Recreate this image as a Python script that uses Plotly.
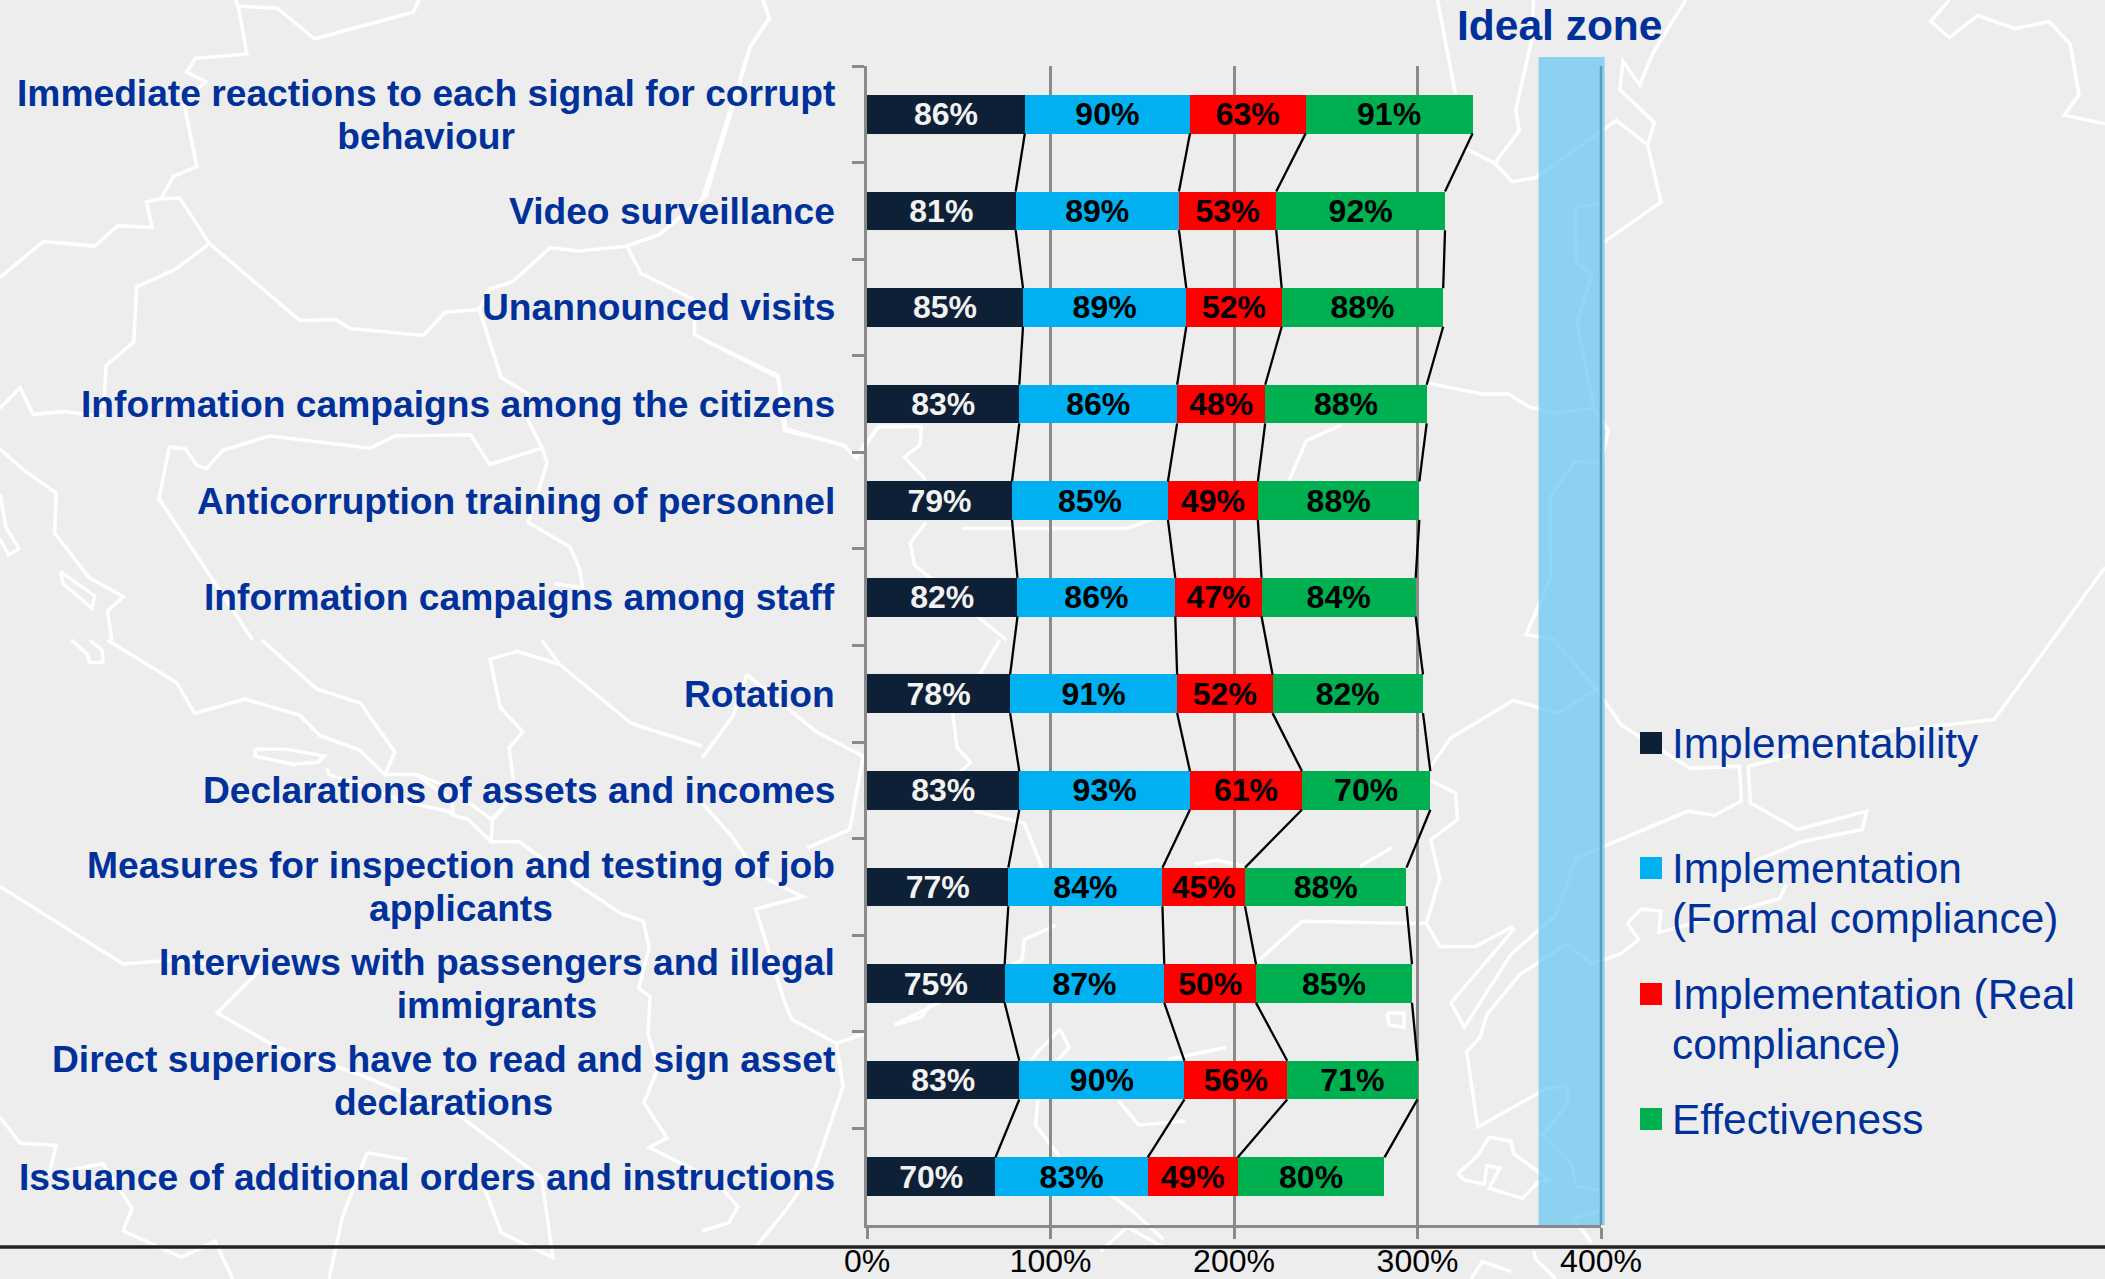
import numpy as np
import plotly.graph_objects as go

W, H = 2105, 1279

categories = [
    "Immediate reactions to each signal for corrupt<br>behaviour",
    "Video surveillance",
    "Unannounced visits",
    "Information campaigns among the citizens",
    "Anticorruption training of personnel",
    "Information campaigns among staff",
    "Rotation",
    "Declarations of assets and incomes",
    "Measures for inspection and testing of job<br>applicants",
    "Interviews with passengers and illegal<br>immigrants",
    "Direct superiors have to read and sign asset<br>declarations",
    "Issuance of additional orders and instructions",
]
implementability = [86, 81, 85, 83, 79, 82, 78, 83, 77, 75, 83, 70]
formal_compliance = [90, 89, 89, 86, 85, 86, 91, 93, 84, 87, 90, 83]
real_compliance = [63, 53, 52, 48, 49, 47, 52, 61, 45, 50, 56, 49]
effectiveness = [91, 92, 88, 88, 88, 84, 82, 70, 88, 85, 71, 80]

series_names = [
    "Implementability",
    "Implementation<br>(Formal compliance)",
    "Implementation (Real<br>compliance)",
    "Effectiveness",
]
series_values = [implementability, formal_compliance, real_compliance, effectiveness]
series_colors = ["#0E2036", "#00B0F0", "#FF0000", "#00B050"]
label_colors = ["#F2F2F2", "#000000", "#000000", "#000000"]
tick_values = [0, 100, 200, 300, 400]
ideal_zone = (366, 402)

BG, AXIS, BLUE = "#EDEDED", "#8A8A8A", "#00309A"
ZONE = "rgba(102,198,240,0.72)"
FONT = "Liberation Sans"

# decorative map backdrop, one group per reference crop: origin, scale, polylines
MAP = [
    (0, 0, 1.742, 2.45, [
        [(410,0),(415,15),(483,20),(548,95),(720,30),(730,0)],
        [(415,15),(430,132),(340,143),(325,177),(358,200),(320,250),(343,408),(302,432),(280,487),(255,495),(265,557),(205,553),(165,603),(75,592),(0,680)],
        [(280,487),(313,485),(365,597),(522,785),(585,783),(610,805),(738,822),(775,765),(835,758),(873,925),(920,965),(920,1030),(945,1100),(953,1135),(920,1280),(993,1340),(1010,1395),(1015,1440),(965,1430)],
        [(365,597),(305,660),(238,703),(233,838),(185,895),(180,1000)],
        [(1330,0),(1340,45),(1307,115),(1230,480),(1148,575),(1092,603),(1010,615),(958,607),(893,690),(853,708),(835,758)],
        [(1092,603),(1117,670),(1210,735),(1210,820),(1355,925),(1367,1055),(1470,1090),(1490,1120),(1530,1045),(1568,1045)],
        [(0,1000),(35,950),(58,1015),(110,1008),(180,1020)],
        [(440,1568),(277,1222),(295,1095),(323,1100),(343,1140),(360,1148),(388,1103),(470,1068),(645,1098),(688,1068),(820,1065),(853,1138),(943,1098)],
        [(0,1100),(40,1150),(98,1208),(95,1305),(155,1415),(215,1462),(187,1497),(195,1568)],
        [(105,1400),(165,1460),(160,1490),(110,1430),(105,1400)],
        [(0,1210),(10,1290),(33,1345),(15,1360),(0,1320)],
    ]),
    (0, 640, 2.2336, 2.4538, [
        [(240,0),(395,105),(435,180),(547,145),(670,185),(715,235),(803,270),(860,330),(882,275),(805,155),(707,120),(585,0)],
        [(570,268),(640,268),(725,285),(710,300),(655,305),(570,285),(570,268)],
        [(160,0),(195,35),(200,55),(230,55),(228,25),(200,0)],
        [(860,330),(930,330),(1010,395),(1012,430),(1045,440),(1097,495),(1160,495),(1290,600),(1385,670),(1437,690),(1450,755),(1427,855),(1452,875),(1447,965),(1470,1050),(1438,1135),(1490,1222),(1450,1245),(1568,1310)],
        [(730,315),(735,330),(915,400),(1000,420),(1012,430)],
        [(1097,495),(1100,440),(1135,400),(1097,440),(1000,360),(930,330)],
        [(1210,0),(1250,60),(1155,28),(1095,47),(1117,165),(1168,225),(1137,265),(1147,345)],
        [(1250,60),(1410,205),(1568,260)],
        [(0,605),(275,795),(390,785),(580,810),(485,915),(620,1000),(800,1065),(1030,1170),(1210,1320),(1235,1515),(1120,1455),(1080,1340)],
        [(0,1170),(45,1235),(125,1240),(110,1310),(230,1285),(295,1395),(275,1450),(405,1515),(480,1475),(520,1568)],
        [(820,1258),(910,1275)],
        [(820,1258),(765,1415),(735,1568)],
    ]),
    (702, 640, 2.2336, 2.4538, [
        [(665,0),(620,85)],
        [(560,180),(570,265),(600,300),(560,340)],
        [(100,85),(70,185),(0,290)],
        [(100,85),(255,225),(360,285),(330,465),(235,510)],
        [(0,400),(65,480),(125,575),(225,630),(120,660),(185,890),(200,930),(300,990),(365,965)],
        [(300,990),(315,1095),(255,1290),(190,1395),(120,1490)],
        [(0,1450),(60,1430),(80,1390),(40,1340)],
        [(610,420),(720,450),(760,560)],
        [(790,700),(720,735),(715,785),(430,945),(490,925),(510,895)],
        [(1100,550),(1150,540),(1210,555)],
        [(1540,510),(1470,555)],
        [(1240,790),(1340,690),(1568,695)],
        [(800,955),(820,1000),(780,1050),(750,1130),(745,1190),(800,1270),(960,1400),(1030,1470)],
        [(800,955),(750,1010),(710,1070)],
        [(1040,1030),(1170,1000)],
        [(930,1130),(975,1190),(1080,1180)],
        [(1530,915),(1568,915),(1568,950),(1535,945),(1530,915)],
        [(890,1500),(950,1440),(1030,1490)],
    ]),
    (1404, 640, 2.2368, 2.4538, [
        [(335,0),(430,120),(345,180),(245,148),(105,240),(60,310)],
        [(430,120),(487,210),(640,315),(750,310),(755,395),(695,430),(635,420),(385,535),(340,675),(240,770),(135,950),(105,890),(195,775),(245,710),(240,705),(160,752),(80,752),(50,695),(0,695)],
        [(770,310),(1075,225),(1320,195),(1450,0)],
        [(770,310),(775,400),(880,465),(1035,420),(1025,465),(890,495),(780,545)],
        [(855,600),(840,635),(570,718),(575,665),(530,660),(500,695),(525,735),(485,770),(420,795),(365,745),(260,820),(185,920),(170,975),(140,1010),(165,1195),(320,1100),(365,1095),(365,1140),(310,1215),(375,1285),(385,1340),(440,1350),(440,1400),(380,1420),(420,1480)],
        [(60,345),(115,375),(120,440),(60,490),(80,585),(50,695)],
        [(120,1310),(165,1265),(190,1220),(240,1230),(245,1260),(325,1325),(300,1330),(265,1370),(190,1345),(215,1295),(185,1290),(180,1335),(135,1325),(120,1310)],
        [(290,1500),(295,1520),(340,1568)],
        [(150,1568),(175,1525),(240,1550)],
    ]),
    (1404, 0, 2.2368, 2.45, [
        [(75,0),(115,230)],
        [(290,0),(285,100),(250,270),(258,320),(203,400),(140,365)],
        [(203,400),(242,445),(295,435),(475,295),(545,355),(560,300),(483,220),(490,150),(527,208),(557,130),(630,0)],
        [(545,355),(575,495),(445,595)],
        [(435,500),(383,508),(385,640),(420,675),(387,790),(425,1000),(335,1012),(280,997),(233,965),(175,965),(50,938)],
        [(425,1000),(457,1055),(440,1135),(383,1130),(327,1217),(328,1415),(273,1555),(340,1568)],
        [(1220,0),(1178,52),(1220,92),(1283,38),(1367,70),(1443,53),(1490,108),(1510,232),(1477,282),(1568,303)],
        [(1568,1390),(1450,1568)],
    ]),
    (702, 0, 2.2336, 2.45, [
        [(135,0),(150,45),(107,115),(0,490)],
        [(0,830),(170,920),(187,1050),(318,1092),(345,1122),(395,1045),(490,1045),(487,1090),(452,1120),(500,1175)],
        [(500,1280),(465,1330),(475,1385),(680,1568)],
        [(580,1295),(950,1295),(1010,1270)],
        [(1430,1040),(1350,1080),(1310,1180)],
    ]),
]

PX_X0, PX_X400, PX_TOP, PX_BOT = 867, 1601, 66, 1225
px = lambda x: x / W
py = lambda y: 1 - y / H
x_frac = lambda v: px(PX_X0 + v * (PX_X400 - PX_X0) / 400)


def sized(text, size):
    return "<br>".join(f'<span style="font-size:{size}px">{t}</span>' for t in text.split("<br>"))


shapes = []
for ox, oy, sx, sy, lines in MAP:
    for line in lines:
        pts = [(px(ox + a / sx), py(oy + b / sy)) for a, b in line]
        path = "M" + " L".join(f"{a:.5f},{b:.5f}" for a, b in pts)
        shapes.append(dict(type="path", path=path, xref="paper", yref="paper", layer="below",
                           line=dict(color="#FFFFFF", width=3.5)))

# the band runs a little past 400 %, and axis-referenced shapes clip at the range end
shapes.append(dict(type="rect", xref="paper", yref="paper", layer="below",
                   x0=x_frac(ideal_zone[0]), x1=x_frac(ideal_zone[1]), y0=py(PX_BOT), y1=py(57),
                   fillcolor=ZONE, line=dict(width=0)))
# 400 % gridline as seen through the band
shapes.append(dict(type="line", xref="paper", yref="paper", layer="below",
                   x0=x_frac(400), x1=x_frac(400), y0=py(PX_BOT), y1=py(PX_TOP),
                   line=dict(color="#5A9CBC", width=2.5)))
shapes.append(dict(type="line", xref="paper", yref="paper", layer="above",
                   x0=0, x1=1, y0=py(1247), y1=py(1247), line=dict(color="#222222", width=3.5)))

fig = go.Figure()
n = len(categories)
half_bar = 0.2

for name, vals, col, lab in zip(series_names, series_values, series_colors, label_colors):
    fig.add_trace(go.Bar(
        x=vals, y=categories, orientation="h", name=name.replace("<br>", " "), showlegend=False,
        marker=dict(color=col, line=dict(width=0)), width=half_bar * 2,
        text=[f"{v}%" for v in vals], textposition="inside", insidetextanchor="middle", textangle=0,
        constraintext="none",
        textfont=dict(family=FONT, size=32, color=lab, weight="bold"),
    ))

cumulative = np.cumsum(np.array(series_values, dtype=float), axis=0)
for level in cumulative:
    xs, ys = [], []
    for i in range(n - 1):
        xs += [level[i], level[i + 1], None]
        ys += [i + half_bar, i + 1 - half_bar, None]
    fig.add_trace(go.Scatter(x=xs, y=ys, mode="lines", yaxis="y2", showlegend=False,
                             hoverinfo="skip", line=dict(color="#000000", width=2.3)))

# 1.3 x 33 = 43 px line pitch, as in the reference, with larger glyphs
annotations = [dict(text=sized(c, 37.2), x=px(836.5), xref="paper", y=c, yref="y", xanchor="right", yanchor="middle",
                    align="center", showarrow=False, font=dict(family=FONT, size=33, color=BLUE, weight="bold"))
               for c in categories]
annotations.append(dict(text="Ideal zone", x=px(1559), xref="paper", y=py(25.5), yref="paper",
                        xanchor="center", yanchor="middle", showarrow=False,
                        font=dict(family=FONT, size=42.5, color=BLUE, weight="bold")))

# hand-placed legend: swatch on the first line of each entry
legend_y = [743, 868, 994, 1119]
for name, col, ly in zip(series_names, series_colors, legend_y):
    shapes.append(dict(type="rect", xref="paper", yref="paper", layer="above",
                       x0=px(1640), x1=px(1662), y0=py(ly + 11), y1=py(ly - 11),
                       fillcolor=col, line=dict(width=0)))
    annotations.append(dict(text=sized(name, 42.4), x=px(1670), xref="paper", y=py(ly - 25), yref="paper",
                            xanchor="left", yanchor="top", align="left", showarrow=False,
                            font=dict(family=FONT, size=38.5, color=BLUE)))

dom_x = [px(PX_X0), px(PX_X400)]
dom_y = [py(PX_BOT), py(PX_TOP)]
fig.update_layout(
    width=W, height=H, margin=dict(l=0, r=0, t=0, b=0), autosize=False,
    barmode="stack", bargap=0.6, showlegend=False,
    paper_bgcolor=BG, plot_bgcolor="rgba(0,0,0,0)",
    shapes=shapes, annotations=annotations,
    font=dict(family=FONT),
    xaxis=dict(domain=dom_x, range=[0, 400], tickvals=tick_values, ticktext=[f"{v}%" for v in tick_values],
               automargin=False, showgrid=True, gridcolor=AXIS, gridwidth=2.5, zeroline=False,
               showline=True, linecolor=AXIS, linewidth=2.5,
               ticks="outside", ticklen=11, tickwidth=2.5, tickcolor=AXIS, ticklabelstandoff=-5,
               tickfont=dict(family=FONT, size=32, color="#000000")),
    yaxis=dict(domain=dom_y, type="category", categoryorder="array", categoryarray=categories,
               automargin=False, range=[n - 0.5, -0.5], tickson="boundaries", showticklabels=False, showgrid=False,
               showline=True, linecolor=AXIS, linewidth=2.5, zeroline=False,
               ticks="outside", ticklen=12, tickwidth=2.5, tickcolor=AXIS),
    yaxis2=dict(domain=dom_y, overlaying="y", range=[n - 0.5, -0.5], visible=False, automargin=False),
)
fig.write_html("out.html", config=dict(displayModeBar=False),
               post_script="document.body.style.margin='0';document.body.style.overflow='hidden';")
